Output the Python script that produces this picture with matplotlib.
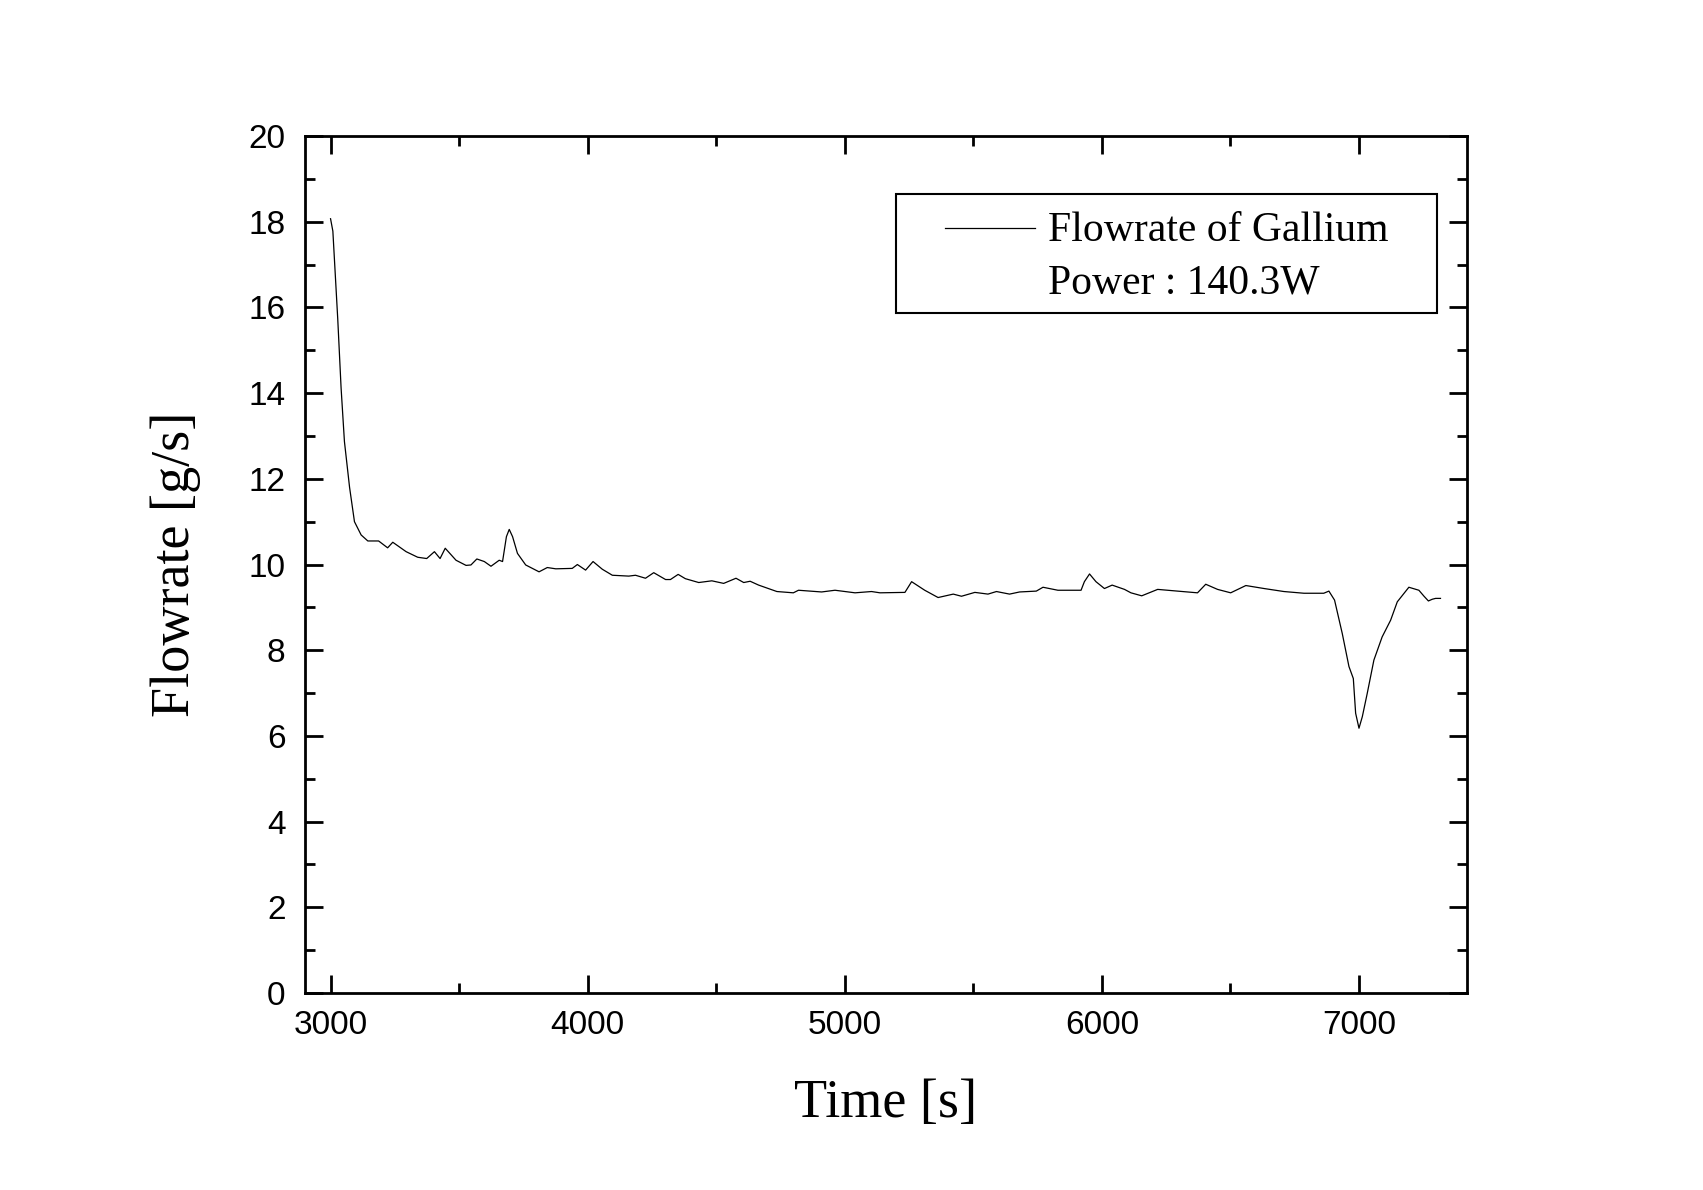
import matplotlib
matplotlib.use("Agg")
import matplotlib.pyplot as plt
from matplotlib.lines import Line2D
from matplotlib.patches import Rectangle
from matplotlib.ticker import MultipleLocator

# time [s] and flowrate [g/s]
time_s = [3000, 3009, 3028, 3041, 3054, 3074, 3093, 3119, 3145, 3187, 3222, 3242,
          3294, 3339, 3374, 3404, 3426, 3446, 3488, 3527, 3546, 3569, 3598, 3624,
          3656, 3669, 3684, 3695, 3708, 3727, 3759, 3811, 3843, 3876, 3940, 3960,
          3992, 4021, 4057, 4096, 4160, 4186, 4225, 4257, 4303, 4322, 4352, 4380,
          4432, 4483, 4529, 4577, 4607, 4632, 4665, 4736, 4800, 4820, 4910, 4962,
          5040, 5104, 5137, 5234, 5260, 5311, 5363, 5422, 5454, 5506, 5557, 5590,
          5641, 5680, 5745, 5771, 5829, 5919, 5932, 5952, 5977, 6010, 6040, 6088,
          6113, 6155, 6217, 6294, 6372, 6404, 6450, 6501, 6560, 6631, 6708, 6786,
          6863, 6883, 6905, 6935, 6961, 6978, 6987, 7000, 7013, 7032, 7058, 7090,
          7123, 7149, 7194, 7233, 7253, 7270, 7285, 7298, 7317]
flowrate = [18.07, 17.78, 15.73, 14.12, 12.87, 11.80, 11.00, 10.69, 10.55, 10.55, 10.39, 10.52,
            10.30, 10.17, 10.14, 10.30, 10.14, 10.38, 10.10, 9.98, 9.99, 10.13, 10.07, 9.96,
            10.10, 10.07, 10.65, 10.82, 10.65, 10.26, 9.99, 9.83, 9.93, 9.90, 9.91, 10.00,
            9.87, 10.07, 9.89, 9.75, 9.73, 9.75, 9.68, 9.81, 9.65, 9.65, 9.77, 9.67,
            9.58, 9.62, 9.56, 9.68, 9.58, 9.61, 9.52, 9.37, 9.34, 9.40, 9.36, 9.40,
            9.34, 9.37, 9.34, 9.35, 9.60, 9.40, 9.23, 9.31, 9.26, 9.35, 9.31, 9.37,
            9.31, 9.36, 9.38, 9.47, 9.40, 9.40, 9.60, 9.78, 9.60, 9.44, 9.52, 9.42,
            9.34, 9.27, 9.42, 9.38, 9.34, 9.54, 9.42, 9.34, 9.51, 9.44, 9.37, 9.33,
            9.33, 9.38, 9.17, 8.39, 7.62, 7.34, 6.53, 6.18, 6.45, 6.99, 7.77, 8.31,
            8.70, 9.13, 9.47, 9.40, 9.26, 9.15, 9.19, 9.21, 9.21]

legend_lines = ["Flowrate of Gallium", "Power : 140.3W"]

plt.rcParams["font.family"] = ["Liberation Sans", "DejaVu Sans"]
serif = ["Liberation Serif", "DejaVu Serif"]

fig = plt.figure(figsize=(17.03, 11.90), dpi=100)
ax = fig.add_axes([0.179, 0.1655, 0.6824, 0.7202])

ax.plot(time_s, flowrate, color="black", linewidth=0.9)

ax.set_xlim(2900, 7420)
ax.set_ylim(0, 20)
ax.xaxis.set_major_locator(MultipleLocator(1000))
ax.xaxis.set_minor_locator(MultipleLocator(500))
ax.yaxis.set_major_locator(MultipleLocator(2))
ax.yaxis.set_minor_locator(MultipleLocator(1))
ax.tick_params(which="both", direction="in", top=True, right=True, width=2,
               labelsize=24)
ax.tick_params(axis="x", pad=12)
ax.tick_params(axis="y", pad=14)
ax.tick_params(which="major", length=13)
ax.tick_params(which="minor", length=7)
for sp in ax.spines.values():
    sp.set_linewidth(2)

ax.set_xlabel("Time [s]", family=serif, fontsize=39, labelpad=27)
ax.set_ylabel("Flowrate [g/s]", family=serif, fontsize=39, labelpad=34)

# legend box drawn by hand (Origin style: wide left margin)
ax.add_patch(Rectangle((0.5086, 0.7935), 0.4654, 0.1388, transform=ax.transAxes,
                       facecolor="white", edgecolor="black", linewidth=1.5, zorder=5))
ax.add_line(Line2D([0.5508, 0.6282], [0.8926, 0.8926], transform=ax.transAxes,
                   color="black", linewidth=0.9, zorder=6))
ax.text(0.6394, 0.8775, legend_lines[0], transform=ax.transAxes, family=serif,
        fontsize=30, va="baseline", zorder=6)
ax.text(0.6394, 0.8168, legend_lines[1], transform=ax.transAxes, family=serif,
        fontsize=30, va="baseline", zorder=6)

fig.savefig("out.png", dpi=100, facecolor="white")
